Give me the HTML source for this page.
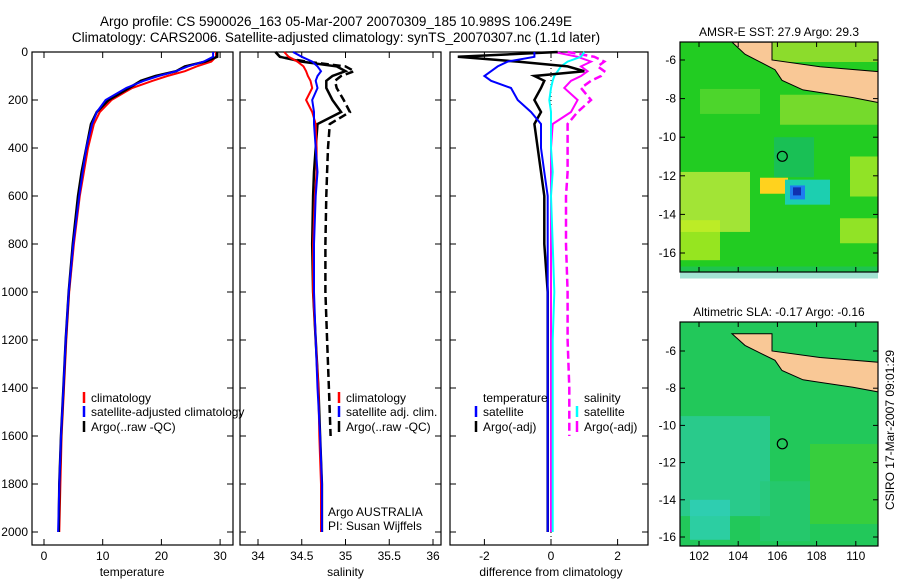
<!DOCTYPE html>
<html><head><meta charset="utf-8"><style>
body{margin:0;background:#fff;}
svg{display:block;font-family:"Liberation Sans",sans-serif;}
</style></head><body>
<svg id="c" width="900" height="580" viewBox="0 0 900 580">
<text x="336" y="26" font-size="13.5" text-anchor="middle">Argo profile: CS 5900026_163 05-Mar-2007 20070309_185 10.989S 106.249E</text>
<text x="336" y="42" font-size="13.5" text-anchor="middle">Climatology: CARS2006. Satellite-adjusted climatology: synTS_20070307.nc (1.1d later)</text>
<text transform="translate(894,430) rotate(-90)" font-size="12" text-anchor="middle">CSIRO 17-Mar-2007 09:01:29</text>
<g id="g"></g>
</svg>
<script>
// depths (m)
const depths=[0,20,40,60,80,100,120,150,200,250,300,400,500,600,800,1000,1200,1400,1600,1800,2000];
// temperature
const tempClim=[29.3,29.3,28.5,26,24,21,18.5,15,11.5,9.5,8.5,7.5,6.8,6.1,5.1,4.3,3.8,3.4,3.0,2.8,2.6];
const tempSat=[28.8,28.8,27.2,24.5,22.5,19.5,17,14,10.5,9,8.2,7.2,6.6,6.0,5.0,4.2,3.7,3.3,2.9,2.6,2.4];
const tempArgo=[29.5,29.5,27.5,24,22.5,19,16.5,14.5,11,9,8,7.2,6.4,5.8,4.9,4.2,3.7,3.3,2.9,2.6,2.5];
// salinity
const salClim=[34.3,34.35,34.45,34.52,34.55,34.57,34.6,34.62,34.55,34.62,34.66,34.67,34.67,34.65,34.63,34.63,34.66,34.69,34.7,34.72,34.72];
const salSat=[34.4,34.5,34.62,34.68,34.72,34.68,34.66,34.68,34.62,34.64,34.64,34.66,34.68,34.66,34.64,34.64,34.66,34.68,34.71,34.73,34.73];
const salArgo=[34.2,34.25,34.5,34.9,35.0,34.85,34.78,34.78,34.85,34.95,34.68,34.66,34.64,34.63,34.62,34.63,34.66,34.69,34.71,34.73,34.73];
const salArgoRaw=[34.2,34.25,34.55,35.0,35.1,34.95,34.88,34.9,34.98,35.05,34.82,34.8,34.79,34.78,34.77,34.77,34.79,34.81,34.83,null,null];
// differences from climatology
const dTempSat=[-0.5,-0.5,-1.3,-1.6,-1.8,-2.0,-1.8,-1.2,-1.0,-0.6,-0.3,-0.3,-0.2,-0.1,-0.1,-0.1,-0.1,-0.1,-0.1,-0.1,-0.1];
const dTempArgo=[0.2,-2.8,-1.0,0.5,1.0,-0.5,-0.2,-0.3,-0.5,-0.3,-0.5,-0.4,-0.3,-0.2,-0.2,-0.1,-0.1,-0.1,-0.1,-0.1,-0.1];
const dSalSat=[1.0,0.9,0.5,0.3,0.2,0.1,0.05,0,-0.05,0,0,0,0.05,0,0.05,0.1,0.05,0.05,0.05,0.05,0.05];
const dSalArgo=[0.1,0.8,1.2,0.9,1.1,0.9,0.6,0.4,0.8,0.6,0.05,0,0,0,0,0,0,0,0,0,0];
const dSalArgoRaw=[0.5,1.3,1.6,1.4,1.6,1.5,1.2,0.9,1.2,0.8,0.5,0.5,0.5,0.45,0.45,0.5,0.5,0.55,0.55,null,null];
const depthTicks=[0,200,400,600,800,1000,1200,1400,1600,1800,2000];
const tempTicks=[0,10,20,30];
const salTicks=[34,34.5,35,35.5,36];
const diffTicks=[-2,0,2];
const lonTicks=[102,104,106,108,110];
const latTicks=[-6,-8,-10,-12,-14,-16];

const NS='http://www.w3.org/2000/svg';
const G=document.getElementById('g');
function mk(tag,at,parent){const e=document.createElementNS(NS,tag);for(const k in at)e.setAttribute(k,at[k]);(parent||G).appendChild(e);return e;}
const yD=d=>52+d*0.24;
const panels=[
 {x0:32,x1:233,f:v=>44+v*5.87,ticks:tempTicks,lab:'temperature',name:'temperature-panel'},
 {x0:240,x1:441,f:v=>258+(v-34)*87.5,ticks:salTicks,lab:'salinity',name:'salinity-panel'},
 {x0:450,x1:648,f:v=>551+v*33.3,ticks:diffTicks,lab:'difference from climatology',name:'difference-panel'}];
panels.forEach((p,i)=>{
 const r=mk('rect',{x:p.x0,y:52,width:p.x1-p.x0,height:493,fill:'none',stroke:'#000','stroke-width':1.2});
 
 
 p.ticks.forEach(t=>{const x=p.f(t);
  mk('line',{x1:x,x2:x,y1:545,y2:539,stroke:'#000'});mk('line',{x1:x,x2:x,y1:52,y2:58,stroke:'#000'});
  const tx=mk('text',{x:x,y:560,'font-size':12,'text-anchor':'middle'});tx.textContent=t;
  
  });
 depthTicks.forEach(d=>{const y=yD(d);
  mk('line',{x1:p.x0,x2:p.x0+6,y1:y,y2:y,stroke:'#000'});mk('line',{x1:p.x1,x2:p.x1-6,y1:y,y2:y,stroke:'#000'});
  if(i==0){const tx=mk('text',{x:28,y:y+4,'font-size':12,'text-anchor':'end'});tx.textContent=d;
  
  }});
 const xl=mk('text',{x:(p.f(p.ticks[0])+p.f(p.ticks[p.ticks.length-1]))/2,y:576,'font-size':12,'text-anchor':'middle'});xl.textContent=p.lab;
 
 
});
function line(p,vals,color,w,dash,name){
 let d='';vals.forEach((v,i)=>{if(v==null)return;d+=(d?'L':'M')+p.f(v).toFixed(1)+','+yD(depths[i]).toFixed(1);});
 const e=mk('path',{d:d,fill:'none',stroke:color,'stroke-width':w});if(dash)e.setAttribute('stroke-dasharray',dash);
 
 
}
const [P1,P2,P3]=panels;
line(P1,tempClim,'#f00',2,null,'temp-climatology-line');
line(P1,tempArgo,'#000',2.5,null,'temp-argo-line');
line(P1,tempSat,'#00f',2,null,'temp-satellite-line');
line(P2,salArgoRaw,'#000',2.5,'8,4','sal-argo-raw-line');
line(P2,salArgo,'#000',2.5,null,'sal-argo-line');
line(P2,salClim,'#f00',2,null,'sal-climatology-line');
line(P2,salSat,'#00f',2,null,'sal-satellite-line');
mk('line',{x1:551,x2:551,y1:52,y2:545,stroke:'#000','stroke-dasharray':'1,3'});
line(P3,dSalArgoRaw,'#f0f',2.5,'8,4','dsal-argo-raw-line');
line(P3,dSalArgo,'#f0f',2,null,'dsal-argo-line');
line(P3,dSalSat,'#0ff',2,null,'dsal-satellite-line');
line(P3,dTempArgo,'#000',2.5,null,'dtemp-argo-line');
line(P3,dTempSat,'#00f',2,null,'dtemp-satellite-line');
function leg(x,y,color,txt,name){mk('line',{x1:x,x2:x,y1:y-10,y2:y+1,stroke:color,'stroke-width':2.5});
 const t=mk('text',{x:x+7,y:y,'font-size':12});t.textContent=txt;
 
 }
leg(84,402,'#f00','climatology','legend-climatology');
leg(84,416,'#00f','satellite-adjusted climatology','legend-satellite-adjusted');
leg(84,431,'#000','Argo(..raw -QC)','legend-argo');
leg(339,402,'#f00','climatology','legend-sal-climatology');
leg(339,416,'#00f','satellite adj. clim.','legend-sal-satellite');
leg(339,431,'#000','Argo(..raw -QC)','legend-sal-argo');
leg(476,416,'#00f','satellite','legend-dtemp-satellite');
leg(476,431,'#000','Argo(-adj)','legend-dtemp-argo');
leg(577,416,'#0ff','satellite','legend-dsal-satellite');
leg(577,431,'#f0f','Argo(-adj)','legend-dsal-argo');
[['temperature',483,402],['salinity',584,402],['Argo AUSTRALIA',328,516],['PI: Susan Wijffels',328,530]].forEach(a=>{
 const t=mk('text',{x:a[1],y:a[2],'font-size':12});t.textContent=a[0];
 
 });

// maps
const maps=[{y0:42,y1:272,yf:l=>60+(-6-l)*19.3,title:'AMSR-E SST: 27.9 Argo: 29.3',base:'#22cc22',name:'sst-map'},
 {y0:322,y1:546,yf:l=>351+(-6-l)*18.6,title:'Altimetric SLA: -0.17 Argo: -0.16',base:'#22c85a',name:'sla-map'}];
const xL=l=>699+(l-102)*19.6;
maps.forEach((m,k)=>{
 const g=mk('g',{});
 
 
 mk('rect',{x:680,y:m.y0,width:198,height:m.y1-m.y0,fill:m.base},g);
 if(k==0){
  mk('rect',{x:772,y:42,width:106,height:20,fill:'#a8e030',opacity:.8},g);
  mk('rect',{x:780,y:m.yf(-7.8),width:98,height:30,fill:'#98e030',opacity:.7},g);
  mk('rect',{x:700,y:m.yf(-7.5),width:60,height:25,fill:'#60d830',opacity:.7},g);
  mk('rect',{x:680,y:m.yf(-11.8),width:70,height:60,fill:'#b8e83a',opacity:.85},g);
  mk('rect',{x:680,y:m.yf(-14.3),width:40,height:40,fill:'#c8f020',opacity:.7},g);
  mk('rect',{x:760,y:m.yf(-12.1),width:28,height:16,fill:'#ffd21e'},g);
  mk('rect',{x:785,y:m.yf(-12.2),width:45,height:25,fill:'#1ccfb0'},g);
  mk('rect',{x:790,y:m.yf(-12.5),width:15,height:14,fill:'#1e7cf0'},g);
  mk('rect',{x:793,y:m.yf(-12.6),width:8,height:8,fill:'#1030b0'},g);
  mk('rect',{x:774,y:m.yf(-10),width:40,height:40,fill:'#14b878',opacity:.6},g);
  mk('rect',{x:680,y:m.yf(-16.7),width:198,height:12,fill:'#1ab890',opacity:.4},g);
  mk('rect',{x:850,y:m.yf(-11),width:28,height:40,fill:'#c0ec28',opacity:.7},g);
  mk('rect',{x:840,y:m.yf(-14.2),width:38,height:25,fill:'#c0ec28',opacity:.7},g);
 }else{
  mk('rect',{x:680,y:m.yf(-9.5),width:90,height:100,fill:'#2ccaa0',opacity:.7},g);
  mk('rect',{x:690,y:m.yf(-14),width:40,height:40,fill:'#30d0c0',opacity:.7},g);
  mk('rect',{x:810,y:m.yf(-11),width:68,height:80,fill:'#40d030',opacity:.7},g);
  mk('rect',{x:760,y:m.yf(-13),width:50,height:60,fill:'#28c878',opacity:.6},g);
 }
 const land=[[732,-5.07],[772,-5.07],[772,-6],[820,-6.35],[878,-6.6],[878,-8.2],[853,-7.95],[803,-7.55],[782,-7.05],[775,-6.5],[760,-6.1],[745,-5.7]];
 mk('polygon',{points:land.map(a=>a[0]+','+m.yf(a[1]).toFixed(1)).join(' '),fill:'#f9c896',stroke:'#000','stroke-width':1},g);
 const c=mk('circle',{cx:xL(106.25),cy:m.yf(-10.99),r:5,fill:'none',stroke:'#000','stroke-width':1.2},g);
 
 
 mk('rect',{x:680,y:m.y0,width:198,height:m.y1-m.y0,fill:'none',stroke:'#000','stroke-width':1.2},g);
 lonTicks.forEach(l=>{const x=xL(l);mk('line',{x1:x,x2:x,y1:m.y1,y2:m.y1-5,stroke:'#000'},g);mk('line',{x1:x,x2:x,y1:m.y0,y2:m.y0+5,stroke:'#000'},g);
  if(k==1){const t=mk('text',{x:x,y:560,'font-size':12,'text-anchor':'middle'},g);t.textContent=l;
  
  }});
 latTicks.forEach(l=>{const y=m.yf(l);mk('line',{x1:680,x2:685,y1:y,y2:y,stroke:'#000'},g);mk('line',{x1:878,x2:873,y1:y,y2:y,stroke:'#000'},g);
  const t=mk('text',{x:676,y:y+4,'font-size':12,'text-anchor':'end'},g);t.textContent=l;
  
  });
 const t=mk('text',{x:779,y:m.y0-6,'font-size':12,'text-anchor':'middle'},g);t.textContent=m.title;
 
 
});
</script>
</body></html>
